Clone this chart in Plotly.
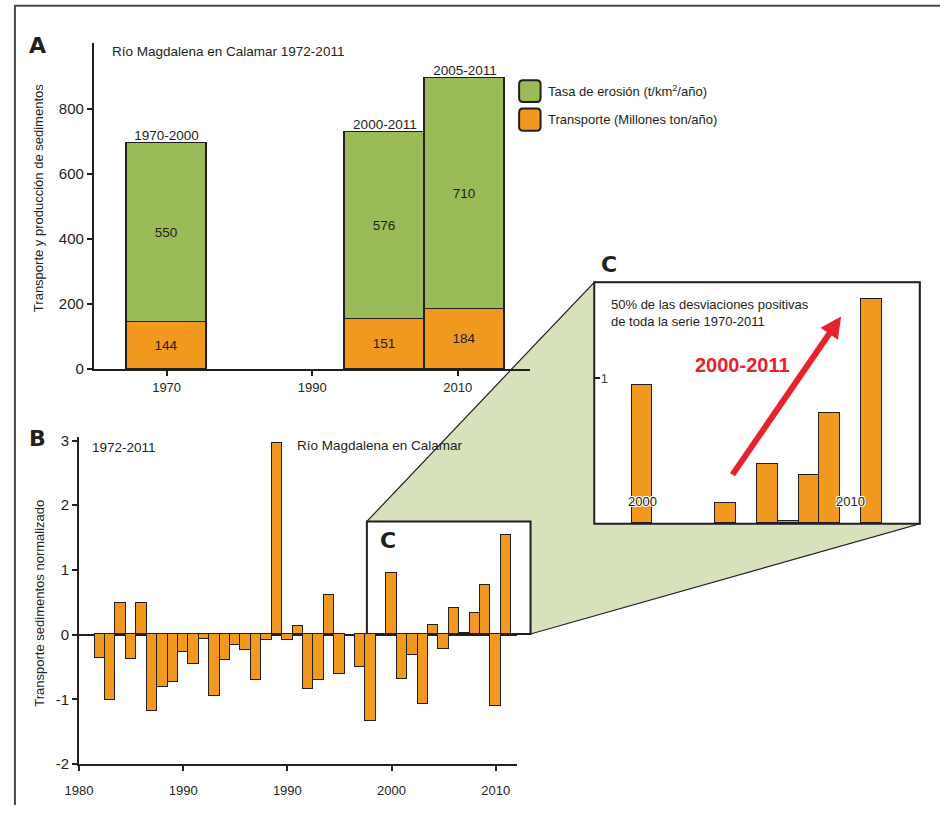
import plotly.graph_objects as go

# ---------------- data ----------------
# Panel A: sediment transport and erosion rate by period
periods = ["1970-2000", "2000-2011", "2005-2011"]
period_x = [1970, 2000, 2011]
transporte = [144, 151, 184]
erosion = [550, 576, 710]
name_erosion = "Tasa de erosión (t/km<sup>2</sup>/año)"
name_transporte = "Transporte (Millones ton/año)"

# Panel B: normalized sediment transport 1972-2011 (None = no bar)
years_b = list(range(1972, 2012))
transport_norm = [-0.37, -1.01, 0.49, -0.38, 0.49, -1.19, -0.81, -0.74, -0.27, -0.46,
                  -0.08, -0.95, -0.40, -0.16, -0.24, -0.70, -0.09, 2.95, -0.09, 0.13,
                  -0.85, -0.70, 0.60, -0.61, None, -0.50, -1.34, None, 0.95, -0.69,
                  -0.32, -1.08, 0.14, -0.22, 0.41, 0.02, 0.33, 0.76, -1.11, 1.54]

# Panel B tick labels (as printed in the original)
b_tickvals = [1970, 1980, 1990, 2000, 2010]
b_ticktext = ["1980", "1990", "1990", "2000", "2010"]

# Panel C: positive deviations 2000-2011 (zoom of panel B)
years_c = [y for y in years_b if y >= 2000]
pos_c = [v if (v is not None and v > 0) else None
         for y, v in zip(years_b, transport_norm) if y >= 2000]

# ---------------- style ----------------
W, H = 940, 813
# observed placement of the page in the photograph (offset and scale)
OX, SX, OY, SY = 15.0, 0.9835, 5.6, 0.982
def px(x): return max(0.0, (x - OX) / SX) / W
def py(y): return 1 - max(0.0, (y - OY) / SY) / H

FONT = "Liberation Sans, Arial, sans-serif"
BOLD = "DejaVu Sans, Liberation Sans, sans-serif"
INK = "#231f20"
GREEN = "#9BBB59"
ORANGE = "#F0991E"
SAGE = "#D7E1BC"
RED = "#E8222A"

fig = go.Figure()

# Panel A
fig.add_trace(go.Bar(x=period_x, y=transporte, width=11, name=name_transporte,
                     marker=dict(color=ORANGE, line=dict(color=INK, width=1.5)),
                     text=transporte, textposition="inside", insidetextanchor="middle",
                     textangle=0, textfont=dict(family=FONT, size=13.5, color=INK),
                     xaxis="x", yaxis="y", showlegend=False))
fig.add_trace(go.Bar(x=period_x, y=erosion, width=11, name=name_erosion,
                     marker=dict(color=GREEN, line=dict(color=INK, width=1.5)),
                     text=erosion, textposition="inside", insidetextanchor="middle",
                     textangle=0, textfont=dict(family=FONT, size=13.5, color=INK),
                     xaxis="x", yaxis="y", showlegend=False))
totals = [a + b for a, b in zip(transporte, erosion)]
fig.add_trace(go.Scatter(x=period_x, y=totals, mode="text", text=periods,
                         textposition="top center", cliponaxis=False,
                         textfont=dict(family=FONT, size=13.5, color=INK),
                         xaxis="x", yaxis="y", showlegend=False))

# Panel B
fig.add_trace(go.Bar(x=years_b, y=transport_norm, width=1,
                     marker=dict(color=ORANGE, line=dict(color=INK, width=1.5)),
                     xaxis="x2", yaxis="y2", showlegend=False))

# Panel C
fig.add_trace(go.Bar(x=years_c, y=pos_c, width=1,
                     marker=dict(color=ORANGE, line=dict(color=INK, width=1.5)),
                     xaxis="x3", yaxis="y3", showlegend=False))

axis_common = dict(showline=True, linecolor=INK, linewidth=2, showgrid=False,
                   zeroline=False, ticks="outside", ticklen=5, tickwidth=1.5,
                   tickcolor=INK)

fig.update_layout(
    width=W, height=H,
    margin=dict(l=0, r=0, t=0, b=0),
    paper_bgcolor="white", plot_bgcolor="rgba(0,0,0,0)",
    barmode="stack", bargap=0,
    font=dict(family=FONT, color=INK),
    xaxis=dict(domain=[px(94.7), px(530.6)], range=[1960, 2020], anchor="y",
               tickvals=[1970, 1990, 2010], tickfont=dict(size=13), **axis_common),
    yaxis=dict(domain=[py(369), py(44)], range=[0, 1000], anchor="x",
               tickvals=[0, 200, 400, 600, 800], tickfont=dict(size=15), **axis_common),
    xaxis2=dict(domain=[px(79.9), px(516.7)], range=[1970, 2012], anchor="y2",
                tickvals=b_tickvals, ticktext=b_ticktext, ticklabelstandoff=8,
                tickfont=dict(size=13), **axis_common),
    yaxis2=dict(domain=[py(763), py(437)], range=[-2, 3.05], anchor="x2",
                tickvals=[-2, -1, 0, 1, 2, 3], ticktext=["-2", "-1", "0", "1", "2", "3"],
                tickfont=dict(size=15),
                **{k: v for k, v in axis_common.items() if k != "zeroline"},
                zeroline=True, zerolinecolor=INK, zerolinewidth=1.5),
    xaxis3=dict(domain=[px(594.3), px(919.3)], range=[1997.7, 2013.3], anchor="y3",
                showline=False, showgrid=False, zeroline=False, showticklabels=False,
                ticks=""),
    yaxis3=dict(domain=[py(523.3), py(282.3)], range=[0, 1.66], anchor="x3",
                showline=False, showgrid=False, zeroline=False, tickvals=[1],
                ticks="inside", ticklen=6, tickwidth=1.5, tickcolor=INK,
                ticklabelposition="inside", tickfont=dict(size=13)),
)

def path(points, close=True):
    s = "M " + " L ".join(f"{px(x)},{py(y)}" for x, y in points)
    return s + (" Z" if close else "")

def rrect(x0, y0, x1, y1, r=4):
    rx, ry = r / W, r / H
    X0, X1, Y0, Y1 = px(x0), px(x1), py(y0), py(y1)
    return (f"M {X0+rx},{Y0} L {X1-rx},{Y0} Q {X1},{Y0} {X1},{Y0-ry} "
            f"L {X1},{Y1+ry} Q {X1},{Y1} {X1-rx},{Y1} L {X0+rx},{Y1} "
            f"Q {X0},{Y1} {X0},{Y1+ry} L {X0},{Y0-ry} Q {X0},{Y0} {X0+rx},{Y0} Z")

shapes = [
    dict(type="path", xref="paper", yref="paper", layer="below",
         path=f"M 0.001,0 L 0.001,0.999 L 1,0.999",
         line=dict(color="#4a4a4a", width=2)),
    dict(type="path", xref="paper", yref="paper", layer="below",
         path=path([(367.3, 521), (594.3, 282.3), (919.3, 282.3), (919.3, 523.3),
                    (530.7, 633.3), (367.3, 633.3)]),
         fillcolor=SAGE, line=dict(color=INK, width=1.2)),
    dict(type="rect", xref="paper", yref="paper", layer="below",
         x0=px(367.3), x1=px(530.7), y0=py(633.3), y1=py(521),
         fillcolor="white", line=dict(color=INK, width=2)),
    dict(type="rect", xref="paper", yref="paper", layer="below",
         x0=px(594.3), x1=px(919.3), y0=py(523.3), y1=py(282.3),
         fillcolor="white", line=dict(color=INK, width=2)),
    dict(type="path", xref="paper", yref="paper", path=rrect(519.3, 80.7, 540.7, 102.3),
         fillcolor=GREEN, line=dict(color=INK, width=2)),
    dict(type="path", xref="paper", yref="paper", path=rrect(519.3, 109, 540.7, 131),
         fillcolor=ORANGE, line=dict(color=INK, width=2)),
]
fig.update_layout(shapes=shapes)

def ann(text, x, y, size=13, xanchor="center", color=INK, family=FONT, **kw):
    return dict(text=text, x=px(x), y=py(y), xref="paper", yref="paper",
                xanchor=xanchor, yanchor="middle", showarrow=False,
                font=dict(family=family, size=size, color=color), **kw)

halo = "-1px -1px 0 #fff, 1px -1px 0 #fff, -1px 1px 0 #fff, 1px 1px 0 #fff"

annotations = [
    ann("<b>A</b>", 38, 46, size=22, family=BOLD),
    ann("<b>B</b>", 38, 438, size=22, family=BOLD),
    ann("<b>C</b>", 388, 540, size=22, family=BOLD),
    ann("<b>C</b>", 608.7, 264.7, size=22, family=BOLD),
    ann("Río Magdalena en Calamar 1972-2011", 111, 52, size=13.5, xanchor="left"),
    ann("1972-2011", 91, 447, size=13.5, xanchor="left"),
    ann("Río Magdalena en Calamar", 296, 445, size=13.5, xanchor="left"),
    ann("Transporte y producción de sedimentos", 39.3, 198, size=13, textangle=-90),
    ann("Transporte sedimentos normalizado", 40.5, 602.5, size=13, textangle=-90),
    ann(name_erosion, 546, 91.5, size=13, xanchor="left"),
    ann(name_transporte, 546, 120, size=13, xanchor="left"),
    ann("50% de las desviaciones positivas<br>de toda la serie 1970-2011", 609, 313,
        size=13, xanchor="left", align="left"),
    ann("<b>2000-2011</b>", 742.3, 365, size=20, color=RED),
    dict(text="2000", x=2000, y=0.151, xref="x3", yref="y3", showarrow=False,
         font=dict(family=FONT, size=13, color=INK, shadow=halo)),
    dict(text="2010", x=2010, y=0.151, xref="x3", yref="y3", showarrow=False,
         font=dict(family=FONT, size=13, color=INK, shadow=halo)),
    dict(text=" ", x=2009.53, y=1.425, xref="x3", yref="y3",
         ax=2004.18, ay=0.308, axref="x3", ayref="y3", showarrow=True,
         arrowhead=2, arrowsize=0.7, arrowwidth=6, arrowcolor=RED),
]
fig.update_layout(annotations=annotations)

fig.write_html(
    "out.html",
    config={"displayModeBar": False},
    post_script=("document.documentElement.style.margin='0';"
                 "document.documentElement.style.padding='0';"
                 "document.documentElement.style.overflow='hidden';"
                 "document.body.style.margin='0';"
                 "document.body.style.padding='0';"
                 "document.body.style.overflow='hidden';"),
)
